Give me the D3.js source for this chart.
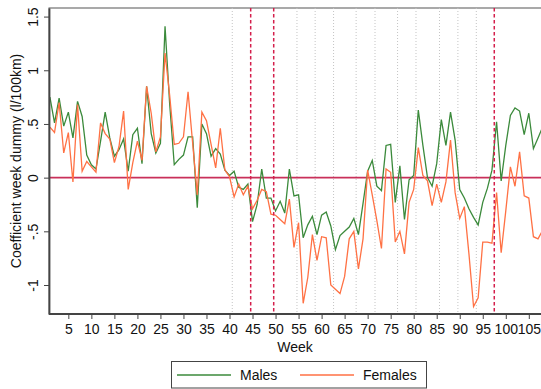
<!DOCTYPE html>
<html lang="en">
<head>
   <meta charset="UTF-8">
   <title>Week dummies</title>
   <style>
     body { margin: 0; background: #fff; }
     svg { display: block; font-family: "Liberation Sans", Arial, sans-serif; }
   </style>
</head>
<body>
   <script src="https://d3js.org/d3.v7.min.js"></script>
   <script>
     const weeks = d3.range(1, 109);

     const males = [
          0.75, 0.51, 0.74, 0.48, 0.61, 0.37, 0.71, 0.57, 0.21, 0.12,
          0.08, 0.34, 0.61, 0.37, 0.20, 0.26, 0.36, 0.06, 0.40, 0.46,
          0.13, 0.85, 0.41, 0.23, 0.32, 1.41, 0.69, 0.12, 0.17, 0.21,
          0.38, 0.38, -0.28, 0.50, 0.41, 0.20, 0.27, 0.22, 0.07, 0.02,
          0.06, -0.09, -0.11, -0.06, -0.41, -0.25, 0.08, -0.19, -0.19, -0.31,
          -0.22, -0.33, 0.08, -0.17, -0.16, -0.56, -0.44, -0.36, -0.53, -0.35,
          -0.32, -0.45, -0.67, -0.54, -0.50, -0.46, -0.38, -0.53, -0.24, 0.06,
          0.16, -0.08, -0.12, 0.30, 0.31, -0.23, 0.11, -0.39, -0.02, 0.02,
          0.63, 0.30, 0.00, -0.08, 0.13, 0.54, 0.30, 0.61, 0.35, -0.11,
          -0.19, -0.29, -0.37, -0.44, -0.23, -0.10, 0.07, 0.52, -0.03, 0.30,
          0.58, 0.65, 0.62, 0.40, 0.60, 0.27, 0.37, 0.47
     ];

     const females = [
          0.47, 0.42, 0.70, 0.23, 0.42, -0.04, 0.68, 0.06, 0.15, 0.10,
          0.05, 0.51, 0.41, 0.36, 0.14, 0.29, 0.62, -0.11, 0.14, 0.34,
          0.16, 0.85, 0.60, 0.24, 0.38, 1.16, 0.77, 0.31, 0.32, 0.38,
          0.80, 0.32, -0.16, 0.61, 0.53, 0.31, 0.09, 0.46, 0.07, 0.01,
          -0.18, -0.06, -0.16, -0.08, -0.29, -0.21, -0.11, -0.13, -0.34, -0.35,
          -0.39, -0.43, -0.20, -0.65, -0.42, -1.17, -0.93, -0.53, -0.77, -0.55,
          -0.56, -1.00, -1.04, -1.08, -0.92, -0.57, -0.50, -0.85, -0.57, 0.07,
          -0.16, -0.40, -0.66, 0.08, 0.05, -0.60, -0.50, -0.71, -0.23, -0.11,
          0.28, 0.02, -0.03, -0.26, -0.06, -0.23, -0.04, 0.35, -0.14, -0.38,
          -0.27, -0.71, -1.20, -1.12, -0.60, -0.60, -0.61, -0.14, -0.70, -0.31,
          0.10, -0.08, 0.24, -0.17, -0.19, -0.55, -0.57, -0.49
     ];

     const xTicks = d3.range(5, 106, 5);
     const yTicks = [-1, -0.5, 0, 0.5, 1, 1.5];
     const yTickLabels = ['-1', '-.5', '0', '.5', '1', '1.5'];
     const redLines = [44.6, 49.6, 97.5];
     const grayLines = [40.6, 54.65, 58.6, 62.6, 67.5, 71.6, 76.5, 80.5, 85.6, 89.6, 93.6];
     const seriesNames = ['Males', 'Females'];

     function createChart(width, height) {
          const margin = {top: 8, right: -3, bottom: 75, left: 49};
          const colors = {Males: '#3b8a3b', Females: '#ff7144'};

          const svg = d3.create('svg')
                         .attr('width', width)
                         .attr('height', height);

          const scaleX = d3.scaleLinear()
                              .domain([0.8, 108.3])
                              .range([margin.left, width - margin.right]);
          const scaleY = d3.scaleLinear()
                              .domain([-1.27, 1.58])
                              .range([height - margin.bottom, margin.top]);

          const bottom = height - margin.bottom;

          // plot frame
          svg.append('rect')
               .attr('x', margin.left)
               .attr('y', margin.top)
               .attr('width', width - margin.right - margin.left)
               .attr('height', bottom - margin.top)
               .attr('fill', 'none')
               .attr('stroke', '#555')
               .attr('stroke-width', 1);

          svg.append('g').selectAll('line')
               .data(grayLines)
               .join('line')
               .attr('x1', d => scaleX(d)).attr('x2', d => scaleX(d))
               .attr('y1', margin.top).attr('y2', bottom)
               .attr('stroke', '#c4c4c4')
               .attr('stroke-width', 1)
               .attr('stroke-dasharray', '1,2');

          svg.append('line')
               .attr('x1', margin.left).attr('x2', width)
               .attr('y1', scaleY(0)).attr('y2', scaleY(0))
               .attr('stroke', '#c9305a')
               .attr('stroke-width', 1.6);

          const line = d3.line()
                         .x((d, i) => scaleX(weeks[i]))
                         .y(d => scaleY(d));

          svg.append('path')
               .attr('d', line(males))
               .attr('fill', 'none')
               .attr('stroke', colors.Males)
               .attr('stroke-width', 1.3);

          svg.append('path')
               .attr('d', line(females))
               .attr('fill', 'none')
               .attr('stroke', colors.Females)
               .attr('stroke-width', 1.3);

          svg.append('g').selectAll('line')
               .data(redLines)
               .join('line')
               .attr('x1', d => scaleX(d)).attr('x2', d => scaleX(d))
               .attr('y1', margin.top).attr('y2', bottom)
               .attr('stroke', '#d41f4c')
               .attr('stroke-width', 1.5)
               .attr('stroke-dasharray', '3.5,2.5');

          const xAxis = g => g
                         .attr('transform', `translate(0,${bottom})`)
                         .call(d3.axisBottom(scaleX).tickValues(xTicks).tickSize(5).tickPadding(5).tickSizeOuter(0))
                         .call(g => g.select('.domain').attr('stroke', '#444').attr('stroke-width', 1.8)
                                   .attr('d', `M${margin.left},0H${width}`))
                         .call(g => g.selectAll('.tick line').attr('stroke', '#444'))
                         .call(g => g.selectAll('.tick text')
                                   .attr('fill', '#111')
                                   .style('font-size', '14px')
                                   .style('font-family', '"Liberation Sans", Arial, sans-serif'));

          const yAxis = g => g
                         .attr('transform', `translate(${margin.left},0)`)
                         .call(d3.axisLeft(scaleY).tickValues(yTicks).tickSize(5).tickSizeOuter(0)
                                   .tickFormat((d, i) => yTickLabels[i]))
                         .call(g => g.select('.domain').attr('stroke', '#444').attr('stroke-width', 1.8))
                         .call(g => g.selectAll('.tick line').attr('stroke', '#444'))
                         .call(g => g.selectAll('.tick text')
                                   .attr('fill', '#111')
                                   .attr('x', null).attr('dy', null)
                                   .attr('text-anchor', 'middle')
                                   .attr('transform', 'translate(-11,0) rotate(-90)')
                                   .style('font-size', '14px')
                                   .style('font-family', '"Liberation Sans", Arial, sans-serif'));

          svg.append('g').call(xAxis);
          svg.append('g').call(yAxis);

          svg.append('text')
               .attr('transform', `translate(21,${(margin.top + bottom) / 2}) rotate(-90)`)
               .attr('text-anchor', 'middle')
               .attr('font-size', 14)
               .attr('fill', '#111')
               .text('Coefficient week dummy (l/100km)');

          svg.append('text')
               .attr('x', (margin.left + 541) / 2)
               .attr('y', 351.5)
               .attr('text-anchor', 'middle')
               .attr('font-size', 14)
               .attr('fill', '#111')
               .text('Week');

          // legend
          const legend = svg.append('g');
          legend.append('rect')
               .attr('x', 171.5).attr('y', 361.5)
               .attr('width', 255).attr('height', 26.5)
               .attr('fill', '#fff')
               .attr('stroke', '#444')
               .attr('stroke-width', 1);

          const item = legend.selectAll('g')
               .data(seriesNames)
               .join('g')
               .attr('transform', (d, i) => `translate(${177 + i * 123},375)`);

          item.append('line')
               .attr('x1', 0).attr('x2', 54)
               .attr('stroke', d => colors[d])
               .attr('stroke-width', 1.3);

          item.append('text')
               .attr('x', 63)
               .attr('y', 5)
               .attr('font-size', 14)
               .attr('fill', '#111')
               .text(d => d);

          document.querySelector('body').appendChild(svg.node());
     }

     createChart(541, 389);
   </script>
</body>
</html>
